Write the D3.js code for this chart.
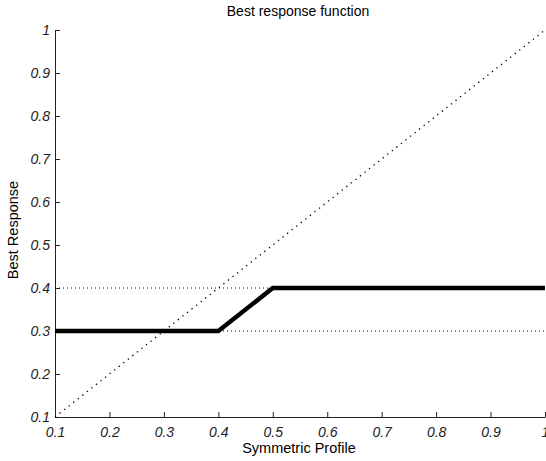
<!DOCTYPE html>
<html>
<head>
<meta charset="utf-8">
<script src="https://cdn.jsdelivr.net/npm/d3@7"></script>
<style>
  body { margin: 0; background: #fff; }
  svg { display: block; font-family: "Liberation Sans", Arial, sans-serif; }
  .tick text { font-style: italic; font-size: 14px; fill: #222; }
</style>
</head>
<body>
<svg width="546" height="461"></svg>
<script>
// Best response curve (thick line)
const profile = [0.1, 0.4, 0.5, 1.0];
const response = [0.3, 0.3, 0.4, 0.4];

// Dotted reference levels and the 45 degree line
const levels = [0.3, 0.4];
const diagX = [0.1, 1.0];
const diagY = [0.1, 1.0];

// Tick values shared by both axes
const ticks = [0.1, 0.2, 0.3, 0.4, 0.5, 0.6, 0.7, 0.8, 0.9, 1.0];

const svg = d3.select("svg");

// Scales (plot area runs to the right edge, like the original)
const x = d3.scaleLinear().domain([0.1, 1]).range([55, 545]);
const y = d3.scaleLinear().domain([0.1, 1]).range([417, 30]);

const fmt = d => d === 1 ? "1" : d3.format(".1f")(d);

// Bottom axis, ticks pointing inward
svg.append("g")
  .attr("transform", `translate(0,${y(0.1)})`)
  .call(d3.axisBottom(x).tickValues(ticks).tickFormat(fmt).tickSizeInner(-5).tickSizeOuter(0).tickPadding(10));

// Left axis, ticks pointing inward
svg.append("g")
  .attr("transform", `translate(${x(0.1)},0)`)
  .call(d3.axisLeft(y).tickValues(ticks).tickFormat(fmt).tickSizeInner(-5).tickSizeOuter(0).tickPadding(5));

svg.selectAll(".domain, .tick line").attr("stroke", "#222");

// Dotted horizontal levels
svg.selectAll(".level")
  .data(levels)
  .enter()
  .append("line")
  .attr("class", "level")
  .attr("x1", x(0.1))
  .attr("x2", x(1))
  .attr("y1", d => y(d))
  .attr("y2", d => y(d))
  .attr("stroke", "#000")
  .attr("stroke-width", 1)
  .attr("stroke-dasharray", "1,3");

// Dotted diagonal
const line = d3.line().x(d => x(d[0])).y(d => y(d[1]));
svg.append("path")
  .attr("d", line(d3.zip(diagX, diagY)))
  .attr("fill", "none")
  .attr("stroke", "#000")
  .attr("stroke-width", 1.3)
  .attr("stroke-dasharray", "1.3,4.5");

// Thick best response curve
svg.append("path")
  .attr("d", line(d3.zip(profile, response)))
  .attr("fill", "none")
  .attr("stroke", "#000")
  .attr("stroke-width", 4.5)
  .attr("stroke-linejoin", "miter");

// Title and axis labels
svg.append("text")
  .attr("x", 298).attr("y", 16)
  .attr("text-anchor", "middle")
  .attr("font-size", 14)
  .text("Best response function");

svg.append("text")
  .attr("x", 299).attr("y", 453)
  .attr("text-anchor", "middle")
  .attr("font-size", 14.5)
  .text("Symmetric Profile");

svg.append("text")
  .attr("transform", "translate(18,230) rotate(-90)")
  .attr("text-anchor", "middle")
  .attr("font-size", 14.5)
  .text("Best Response");
</script>
</body>
</html>
